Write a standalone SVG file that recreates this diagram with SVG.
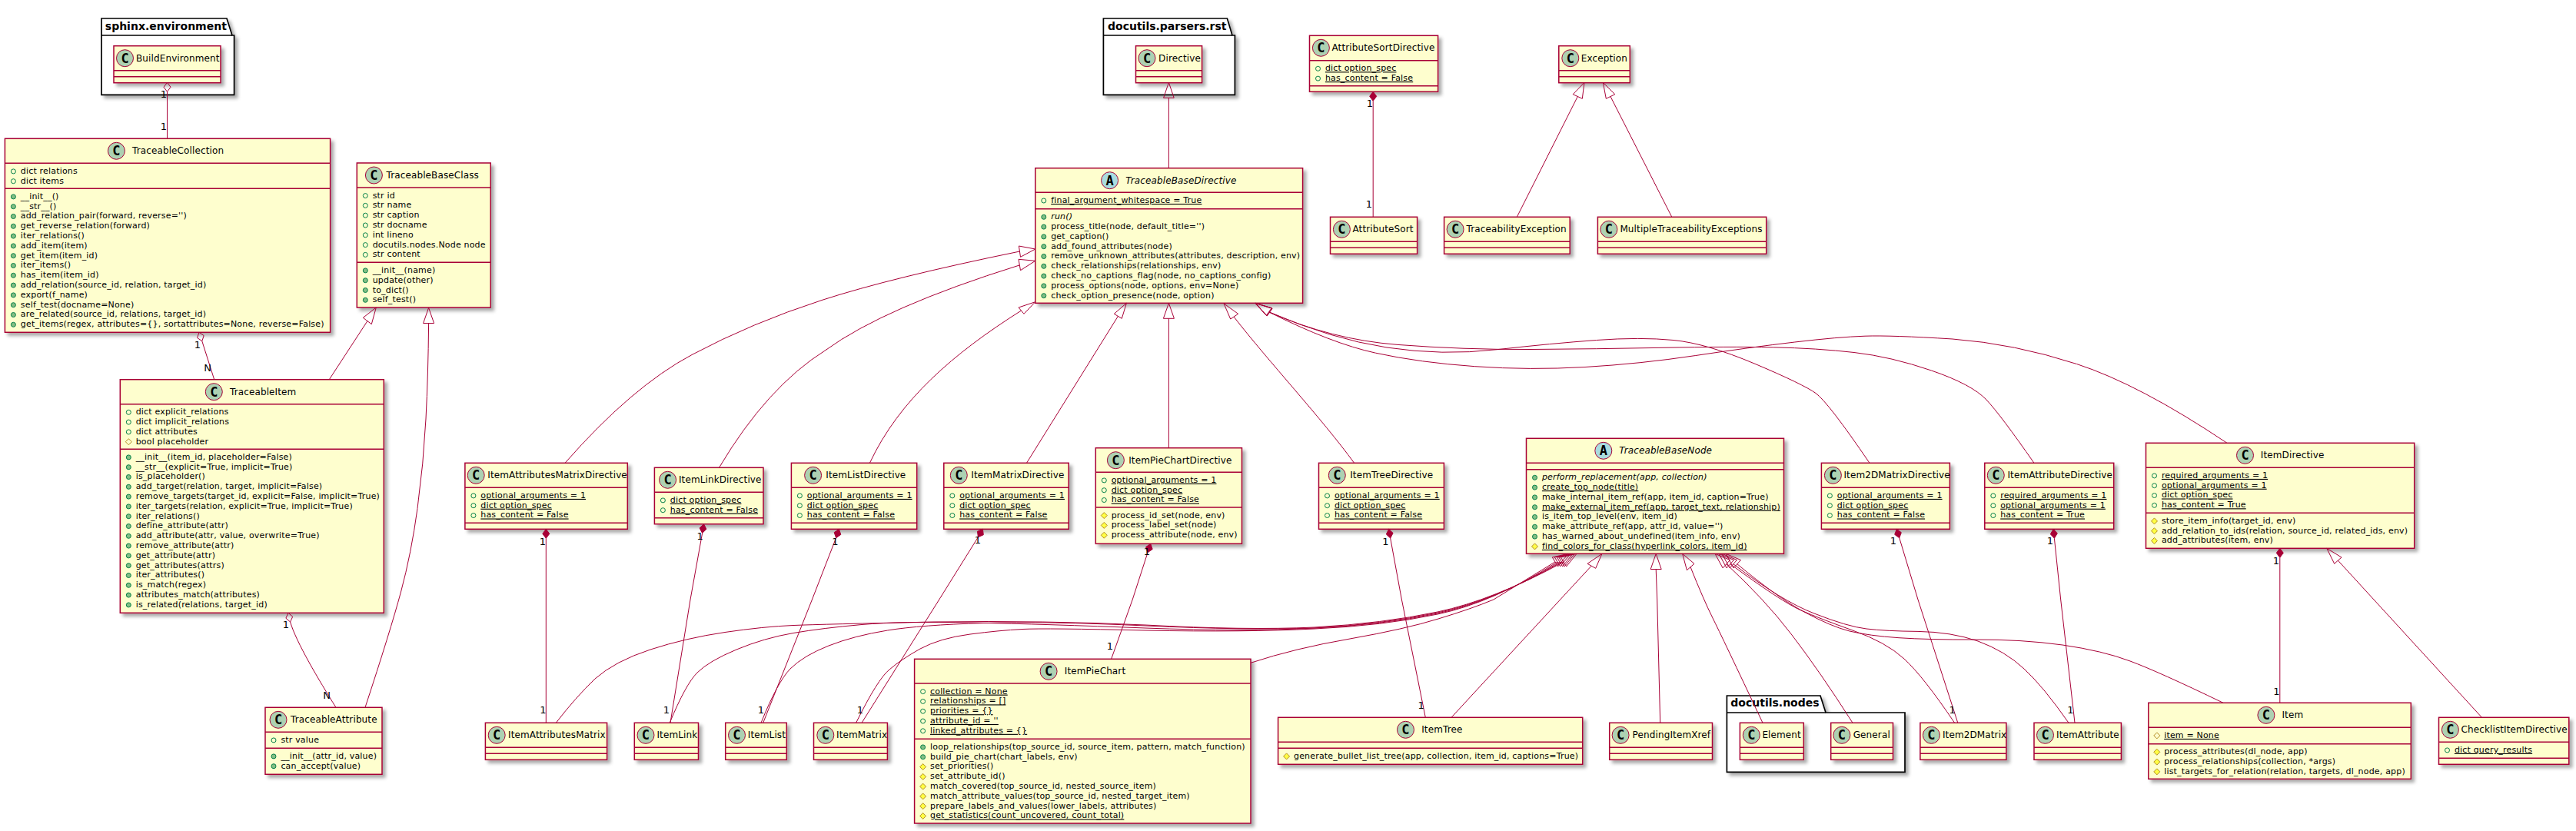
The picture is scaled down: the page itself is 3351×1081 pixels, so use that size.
<svg xmlns="http://www.w3.org/2000/svg" width="3351" height="1081" viewBox="0 0 3351 1081">
<style>
text{font-family:"DejaVu Sans",sans-serif;fill:#000}
.b{fill:#FEFECE;stroke:#A80036;stroke-width:1.5;filter:url(#s)}
.l{stroke:#A80036;stroke-width:1.5}
.sc{fill:#ADD1B2;stroke:#A80036;stroke-width:1}
.sa{fill:#A9DCDF;stroke:#A80036;stroke-width:1}
.g{font-family:"DejaVu Sans Mono",monospace;font-weight:bold;font-size:17px;text-anchor:middle}
.n{font-size:12px;letter-spacing:.12px}
.m{font-size:11px;letter-spacing:.18px}
.u{text-decoration:underline}
.i{font-style:italic}
.p{fill:#FFF;stroke:#000;stroke-width:1.7;filter:url(#s)}
.pl{fill:none;stroke:#000;stroke-width:1.7}
.pt{font-size:14px;font-weight:bold}
.e{fill:none;stroke:#A80036;stroke-width:1}
.d{fill:#A80036;stroke:#A80036;stroke-width:1}
.t{font-size:13px;text-anchor:middle}
</style>
<defs>
<filter id="s" x="-5%" y="-5%" width="120%" height="140%"><feDropShadow dx="4" dy="4" stdDeviation="2" flood-color="#000" flood-opacity="0.33"/></filter>
<circle id="f" r="3" fill="none" stroke="#038048"/>
<circle id="h" r="3" fill="#84BE84" stroke="#038048"/>
<path id="pf" d="M0,-4L4,0L0,4L-4,0Z" fill="none" stroke="#B38D22"/>
<path id="pm" d="M0,-4L4,0L0,4L-4,0Z" fill="#FFFF44" stroke="#B38D22"/>
</defs>
<g id="packages">
<path id="pkg-sphinx-environment" class="p" d="M132,24H295L302,46H304.6V123.3H132Z"/>
<path class="pl" d="M132,46H302"/>
<text class="pt" x="136.8" y="39">sphinx.environment</text>
<path id="pkg-docutils-parsers-rst" class="p" d="M1435.4,24H1596.4L1603,46H1606.4V123.3H1435.4Z"/>
<path class="pl" d="M1435.4,46H1603"/>
<text class="pt" x="1441" y="39">docutils.parsers.rst</text>
<path id="pkg-docutils-nodes" class="p" d="M2246.4,905H2368L2375,927H2478V1004.3H2246.4Z"/>
<path class="pl" d="M2246.4,927H2375"/>
<text class="pt" x="2251.3" y="919.3">docutils.nodes</text>
</g>
<g id="BuildEnvironment" transform="translate(148,59.7)"><rect class="b" width="139" height="48"/><path class="l" d="M0,32H139M0,40H139"/><circle class="sc" cx="14.5" cy="16" r="11"/><text class="g" x="14.5" y="22">C</text><text class="n" x="29" y="20">BuildEnvironment</text></g>
<g id="Directive" transform="translate(1477.5,59.7)"><rect class="b" width="86.1" height="48"/><path class="l" d="M0,32H86.1M0,40H86.1"/><circle class="sc" cx="14.5" cy="16" r="11"/><text class="g" x="14.5" y="22">C</text><text class="n" x="29.6" y="20">Directive</text></g>
<g id="TraceableCollection" transform="translate(6.4,180.3)"><rect class="b" width="423.2" height="252"/><path class="l" d="M0,32H423.2M0,65H423.2"/><circle class="sc" cx="145" cy="16" r="11"/><text class="g" x="145" y="22">C</text><text class="n" x="165.6" y="20">TraceableCollection</text>
<g class="m">
<use href="#f" x="11" y="42.6"/><text x="20.4" y="45.6">dict relations</text>
<use href="#f" x="11" y="55.4"/><text x="20.4" y="58.4">dict items</text>
<use href="#h" x="11" y="75.6"/><text x="20.4" y="78.6">__init__()</text>
<use href="#h" x="11" y="88.4"/><text x="20.4" y="91.4">__str__()</text>
<use href="#h" x="11" y="101.2"/><text x="20.4" y="104.2">add_relation_pair(forward, reverse='')</text>
<use href="#h" x="11" y="114"/><text x="20.4" y="117">get_reverse_relation(forward)</text>
<use href="#h" x="11" y="126.8"/><text x="20.4" y="129.8">iter_relations()</text>
<use href="#h" x="11" y="139.6"/><text x="20.4" y="142.6">add_item(item)</text>
<use href="#h" x="11" y="152.4"/><text x="20.4" y="155.4">get_item(item_id)</text>
<use href="#h" x="11" y="165.2"/><text x="20.4" y="168.2">iter_items()</text>
<use href="#h" x="11" y="178"/><text x="20.4" y="181">has_item(item_id)</text>
<use href="#h" x="11" y="190.8"/><text x="20.4" y="193.8">add_relation(source_id, relation, target_id)</text>
<use href="#h" x="11" y="203.6"/><text x="20.4" y="206.6">export(f_name)</text>
<use href="#h" x="11" y="216.4"/><text x="20.4" y="219.4">self_test(docname=None)</text>
<use href="#h" x="11" y="229.2"/><text x="20.4" y="232.2">are_related(source_id, relations, target_id)</text>
<use href="#h" x="11" y="242"/><text x="20.4" y="245">get_items(regex, attributes={}, sortattributes=None, reverse=False)</text>
</g></g>
<g id="TraceableBaseClass" transform="translate(464.3,212)"><rect class="b" width="173.9" height="188"/><path class="l" d="M0,32H173.9M0,129.3H173.9"/><circle class="sc" cx="22.1" cy="16" r="11"/><text class="g" x="22.1" y="22">C</text><text class="n" x="38.2" y="20">TraceableBaseClass</text>
<g class="m">
<use href="#f" x="11" y="42.6"/><text x="20.4" y="45.6">str id</text>
<use href="#f" x="11" y="55.4"/><text x="20.4" y="58.4">str name</text>
<use href="#f" x="11" y="68.2"/><text x="20.4" y="71.2">str caption</text>
<use href="#f" x="11" y="81"/><text x="20.4" y="84">str docname</text>
<use href="#f" x="11" y="93.8"/><text x="20.4" y="96.8">int lineno</text>
<use href="#f" x="11" y="106.6"/><text x="20.4" y="109.6">docutils.nodes.Node node</text>
<use href="#f" x="11" y="119.4"/><text x="20.4" y="122.4">str content</text>
<use href="#h" x="11" y="139.9"/><text x="20.4" y="142.9">__init__(name)</text>
<use href="#h" x="11" y="152.7"/><text x="20.4" y="155.7">update(other)</text>
<use href="#h" x="11" y="165.5"/><text x="20.4" y="168.5">to_dict()</text>
<use href="#h" x="11" y="178.3"/><text x="20.4" y="181.3">self_test()</text>
</g></g>
<g id="TraceableItem" transform="translate(156.3,493.7)"><rect class="b" width="343" height="303.6"/><path class="l" d="M0,32H343M0,90.6H343"/><circle class="sc" cx="122" cy="16" r="11"/><text class="g" x="122" y="22">C</text><text class="n" x="142.7" y="20">TraceableItem</text>
<g class="m">
<use href="#f" x="11" y="42.6"/><text x="20.4" y="45.6">dict explicit_relations</text>
<use href="#f" x="11" y="55.4"/><text x="20.4" y="58.4">dict implicit_relations</text>
<use href="#f" x="11" y="68.2"/><text x="20.4" y="71.2">dict attributes</text>
<use href="#pf" x="11" y="81"/><text x="20.4" y="84">bool placeholder</text>
<use href="#h" x="11" y="101.2"/><text x="20.4" y="104.2">__init__(item_id, placeholder=False)</text>
<use href="#h" x="11" y="114"/><text x="20.4" y="117">__str__(explicit=True, implicit=True)</text>
<use href="#h" x="11" y="126.8"/><text x="20.4" y="129.8">is_placeholder()</text>
<use href="#h" x="11" y="139.6"/><text x="20.4" y="142.6">add_target(relation, target, implicit=False)</text>
<use href="#h" x="11" y="152.4"/><text x="20.4" y="155.4">remove_targets(target_id, explicit=False, implicit=True)</text>
<use href="#h" x="11" y="165.2"/><text x="20.4" y="168.2">iter_targets(relation, explicit=True, implicit=True)</text>
<use href="#h" x="11" y="178"/><text x="20.4" y="181">iter_relations()</text>
<use href="#h" x="11" y="190.8"/><text x="20.4" y="193.8">define_attribute(attr)</text>
<use href="#h" x="11" y="203.6"/><text x="20.4" y="206.6">add_attribute(attr, value, overwrite=True)</text>
<use href="#h" x="11" y="216.4"/><text x="20.4" y="219.4">remove_attribute(attr)</text>
<use href="#h" x="11" y="229.2"/><text x="20.4" y="232.2">get_attribute(attr)</text>
<use href="#h" x="11" y="242"/><text x="20.4" y="245">get_attributes(attrs)</text>
<use href="#h" x="11" y="254.8"/><text x="20.4" y="257.8">iter_attributes()</text>
<use href="#h" x="11" y="267.6"/><text x="20.4" y="270.6">is_match(regex)</text>
<use href="#h" x="11" y="280.4"/><text x="20.4" y="283.4">attributes_match(attributes)</text>
<use href="#h" x="11" y="293.2"/><text x="20.4" y="296.2">is_related(relations, target_id)</text>
</g></g>
<g id="TraceableAttribute" transform="translate(345,920.3)"><rect class="b" width="152" height="87"/><path class="l" d="M0,32H152M0,53H152"/><circle class="sc" cx="17" cy="16" r="11"/><text class="g" x="17" y="22">C</text><text class="n" x="33" y="20">TraceableAttribute</text>
<g class="m">
<use href="#f" x="11" y="42.6"/><text x="20.4" y="45.6">str value</text>
<use href="#h" x="11" y="63.6"/><text x="20.4" y="66.6">__init__(attr_id, value)</text>
<use href="#h" x="11" y="76.4"/><text x="20.4" y="79.4">can_accept(value)</text>
</g></g>
<g id="TraceableBaseDirective" transform="translate(1346.8,218.7)"><rect class="b" width="347.8" height="175.6"/><path class="l" d="M0,31.5H347.8M0,53H347.8"/><circle class="sa" cx="96.8" cy="16" r="11"/><text class="g" x="96.8" y="22">A</text><text class="n i" x="117.5" y="20">TraceableBaseDirective</text>
<g class="m">
<use href="#f" x="11" y="42.3"/><text class="u" x="20.4" y="45.3">final_argument_whitespace = True</text>
<use href="#h" x="11" y="63.6"/><text class="i" x="20.4" y="66.6">run()</text>
<use href="#h" x="11" y="76.4"/><text x="20.4" y="79.4">process_title(node, default_title='')</text>
<use href="#h" x="11" y="89.2"/><text x="20.4" y="92.2">get_caption()</text>
<use href="#h" x="11" y="102"/><text x="20.4" y="105">add_found_attributes(node)</text>
<use href="#h" x="11" y="114.8"/><text x="20.4" y="117.8">remove_unknown_attributes(attributes, description, env)</text>
<use href="#h" x="11" y="127.6"/><text x="20.4" y="130.6">check_relationships(relationships, env)</text>
<use href="#h" x="11" y="140.4"/><text x="20.4" y="143.4">check_no_captions_flag(node, no_captions_config)</text>
<use href="#h" x="11" y="153.2"/><text x="20.4" y="156.2">process_options(node, options, env=None)</text>
<use href="#h" x="11" y="166"/><text x="20.4" y="169">check_option_presence(node, option)</text>
</g></g>
<g id="ItemAttributesMatrixDirective" transform="translate(604.9,602.3)"><rect class="b" width="211.4" height="86"/><path class="l" d="M0,32H211.4M0,78H211.4"/><circle class="sc" cx="14.3" cy="16" r="11"/><text class="g" x="14.3" y="22">C</text><text class="n" x="29.4" y="20">ItemAttributesMatrixDirective</text>
<g class="m">
<use href="#f" x="11" y="42.6"/><text class="u" x="20.4" y="45.6">optional_arguments = 1</text>
<use href="#f" x="11" y="55.4"/><text class="u" x="20.4" y="58.4">dict option_spec</text>
<use href="#f" x="11" y="68.2"/><text class="u" x="20.4" y="71.2">has_content = False</text>
</g></g>
<g id="ItemLinkDirective" transform="translate(851.4,608.3)"><rect class="b" width="141.6" height="73.4"/><path class="l" d="M0,32H141.6M0,65.4H141.6"/><circle class="sc" cx="17.2" cy="16" r="11"/><text class="g" x="17.2" y="22">C</text><text class="n" x="31.5" y="20">ItemLinkDirective</text>
<g class="m">
<use href="#f" x="11" y="42.6"/><text class="u" x="20.4" y="45.6">dict option_spec</text>
<use href="#f" x="11" y="55.4"/><text class="u" x="20.4" y="58.4">has_content = False</text>
</g></g>
<g id="ItemListDirective" transform="translate(1029.4,602.3)"><rect class="b" width="163.3" height="86"/><path class="l" d="M0,32H163.3M0,78H163.3"/><circle class="sc" cx="28.2" cy="16" r="11"/><text class="g" x="28.2" y="22">C</text><text class="n" x="44.9" y="20">ItemListDirective</text>
<g class="m">
<use href="#f" x="11" y="42.6"/><text class="u" x="20.4" y="45.6">optional_arguments = 1</text>
<use href="#f" x="11" y="55.4"/><text class="u" x="20.4" y="58.4">dict option_spec</text>
<use href="#f" x="11" y="68.2"/><text class="u" x="20.4" y="71.2">has_content = False</text>
</g></g>
<g id="ItemMatrixDirective" transform="translate(1227.8,602.3)"><rect class="b" width="162.4" height="86"/><path class="l" d="M0,32H162.4M0,78H162.4"/><circle class="sc" cx="19.5" cy="16" r="11"/><text class="g" x="19.5" y="22">C</text><text class="n" x="35.5" y="20">ItemMatrixDirective</text>
<g class="m">
<use href="#f" x="11" y="42.6"/><text class="u" x="20.4" y="45.6">optional_arguments = 1</text>
<use href="#f" x="11" y="55.4"/><text class="u" x="20.4" y="58.4">dict option_spec</text>
<use href="#f" x="11" y="68.2"/><text class="u" x="20.4" y="71.2">has_content = False</text>
</g></g>
<g id="ItemPieChartDirective" transform="translate(1425.3,582.7)"><rect class="b" width="190.2" height="124.6"/><path class="l" d="M0,31.6H190.2M0,77.3H190.2"/><circle class="sc" cx="26.1" cy="16" r="11"/><text class="g" x="26.1" y="22">C</text><text class="n" x="42.9" y="20">ItemPieChartDirective</text>
<g class="m">
<use href="#f" x="11" y="42.2"/><text class="u" x="20.4" y="45.2">optional_arguments = 1</text>
<use href="#f" x="11" y="55"/><text class="u" x="20.4" y="58">dict option_spec</text>
<use href="#f" x="11" y="67.8"/><text class="u" x="20.4" y="70.8">has_content = False</text>
<use href="#pm" x="11" y="87.9"/><text x="20.4" y="90.9">process_id_set(node, env)</text>
<use href="#pm" x="11" y="100.7"/><text x="20.4" y="103.7">process_label_set(node)</text>
<use href="#pm" x="11" y="113.5"/><text x="20.4" y="116.5">process_attribute(node, env)</text>
</g></g>
<g id="ItemTreeDirective" transform="translate(1715.5,602.3)"><rect class="b" width="162.9" height="86"/><path class="l" d="M0,32H162.9M0,78H162.9"/><circle class="sc" cx="23.8" cy="16" r="11"/><text class="g" x="23.8" y="22">C</text><text class="n" x="40.7" y="20">ItemTreeDirective</text>
<g class="m">
<use href="#f" x="11" y="42.6"/><text class="u" x="20.4" y="45.6">optional_arguments = 1</text>
<use href="#f" x="11" y="55.4"/><text class="u" x="20.4" y="58.4">dict option_spec</text>
<use href="#f" x="11" y="68.2"/><text class="u" x="20.4" y="71.2">has_content = False</text>
</g></g>
<g id="TraceableBaseNode" transform="translate(1985.5,570.3)"><rect class="b" width="335" height="150"/><path class="l" d="M0,32H335M0,40.4H335"/><circle class="sa" cx="100.3" cy="16" r="11"/><text class="g" x="100.3" y="22">A</text><text class="n i" x="120.7" y="20">TraceableBaseNode</text>
<g class="m">
<use href="#h" x="11" y="51"/><text class="i" x="20.4" y="54">perform_replacement(app, collection)</text>
<use href="#h" x="11" y="63.8"/><text class="u" x="20.4" y="66.8">create_top_node(title)</text>
<use href="#h" x="11" y="76.6"/><text x="20.4" y="79.6">make_internal_item_ref(app, item_id, caption=True)</text>
<use href="#h" x="11" y="89.4"/><text class="u" x="20.4" y="92.4">make_external_item_ref(app, target_text, relationship)</text>
<use href="#h" x="11" y="102.2"/><text x="20.4" y="105.2">is_item_top_level(env, item_id)</text>
<use href="#h" x="11" y="115"/><text x="20.4" y="118">make_attribute_ref(app, attr_id, value='')</text>
<use href="#h" x="11" y="127.8"/><text x="20.4" y="130.8">has_warned_about_undefined(item_info, env)</text>
<use href="#pm" x="11" y="140.6"/><text class="u" x="20.4" y="143.6">find_colors_for_class(hyperlink_colors, item_id)</text>
</g></g>
<g id="Item2DMatrixDirective" transform="translate(2369.4,602.3)"><rect class="b" width="167" height="86"/><path class="l" d="M0,32H167M0,78H167"/><circle class="sc" cx="15" cy="16" r="11"/><text class="g" x="15" y="22">C</text><text class="n" x="29" y="20">Item2DMatrixDirective</text>
<g class="m">
<use href="#f" x="11" y="42.6"/><text class="u" x="20.4" y="45.6">optional_arguments = 1</text>
<use href="#f" x="11" y="55.4"/><text class="u" x="20.4" y="58.4">dict option_spec</text>
<use href="#f" x="11" y="68.2"/><text class="u" x="20.4" y="71.2">has_content = False</text>
</g></g>
<g id="ItemAttributeDirective" transform="translate(2581.8,602.3)"><rect class="b" width="167.9" height="86"/><path class="l" d="M0,32H167.9M0,78H167.9"/><circle class="sc" cx="14.5" cy="16" r="11"/><text class="g" x="14.5" y="22">C</text><text class="n" x="29.6" y="20">ItemAttributeDirective</text>
<g class="m">
<use href="#f" x="11" y="42.6"/><text class="u" x="20.4" y="45.6">required_arguments = 1</text>
<use href="#f" x="11" y="55.4"/><text class="u" x="20.4" y="58.4">optional_arguments = 1</text>
<use href="#f" x="11" y="68.2"/><text class="u" x="20.4" y="71.2">has_content = True</text>
</g></g>
<g id="ItemDirective" transform="translate(2791.5,576.3)"><rect class="b" width="349.2" height="137"/><path class="l" d="M0,32H349.2M0,91H349.2"/><circle class="sc" cx="129" cy="16" r="11"/><text class="g" x="129" y="22">C</text><text class="n" x="149.3" y="20">ItemDirective</text>
<g class="m">
<use href="#f" x="11" y="42.6"/><text class="u" x="20.4" y="45.6">required_arguments = 1</text>
<use href="#f" x="11" y="55.4"/><text class="u" x="20.4" y="58.4">optional_arguments = 1</text>
<use href="#f" x="11" y="68.2"/><text class="u" x="20.4" y="71.2">dict option_spec</text>
<use href="#f" x="11" y="81"/><text class="u" x="20.4" y="84">has_content = True</text>
<use href="#pm" x="11" y="101.6"/><text x="20.4" y="104.6">store_item_info(target_id, env)</text>
<use href="#pm" x="11" y="114.4"/><text x="20.4" y="117.4">add_relation_to_ids(relation, source_id, related_ids, env)</text>
<use href="#pm" x="11" y="127.2"/><text x="20.4" y="130.2">add_attributes(item, env)</text>
</g></g>
<g id="ItemAttributesMatrix" transform="translate(631.4,940.3)"><rect class="b" width="158.2" height="48"/><path class="l" d="M0,32H158.2M0,40H158.2"/><circle class="sc" cx="14.8" cy="16" r="11"/><text class="g" x="14.8" y="22">C</text><text class="n" x="29.6" y="20">ItemAttributesMatrix</text></g>
<g id="ItemLink" transform="translate(825.3,940.3)"><rect class="b" width="83.2" height="48"/><path class="l" d="M0,32H83.2M0,40H83.2"/><circle class="sc" cx="14.7" cy="16" r="11"/><text class="g" x="14.7" y="22">C</text><text class="n" x="29.1" y="20">ItemLink</text></g>
<g id="ItemList" transform="translate(943.7,940.3)"><rect class="b" width="79.6" height="48"/><path class="l" d="M0,32H79.6M0,40H79.6"/><circle class="sc" cx="14.8" cy="16" r="11"/><text class="g" x="14.8" y="22">C</text><text class="n" x="29.1" y="20">ItemList</text></g>
<g id="ItemMatrix" transform="translate(1058.5,940.3)"><rect class="b" width="95.9" height="48"/><path class="l" d="M0,32H95.9M0,40H95.9"/><circle class="sc" cx="15.3" cy="16" r="11"/><text class="g" x="15.3" y="22">C</text><text class="n" x="29.5" y="20">ItemMatrix</text></g>
<g id="ItemPieChart" transform="translate(1189.6,857.3)"><rect class="b" width="437.4" height="213.7"/><path class="l" d="M0,31.7H437.4M0,104H437.4"/><circle class="sc" cx="174.5" cy="16" r="11"/><text class="g" x="174.5" y="22">C</text><text class="n" x="195.2" y="20">ItemPieChart</text>
<g class="m">
<use href="#f" x="11" y="42.3"/><text class="u" x="20.4" y="45.3">collection = None</text>
<use href="#f" x="11" y="55.1"/><text class="u" x="20.4" y="58.1">relationships = []</text>
<use href="#f" x="11" y="67.9"/><text class="u" x="20.4" y="70.9">priorities = {}</text>
<use href="#f" x="11" y="80.7"/><text class="u" x="20.4" y="83.7">attribute_id = ''</text>
<use href="#f" x="11" y="93.5"/><text class="u" x="20.4" y="96.5">linked_attributes = {}</text>
<use href="#h" x="11" y="114.6"/><text x="20.4" y="117.6">loop_relationships(top_source_id, source_item, pattern, match_function)</text>
<use href="#h" x="11" y="127.4"/><text x="20.4" y="130.4">build_pie_chart(chart_labels, env)</text>
<use href="#pm" x="11" y="140.2"/><text x="20.4" y="143.2">set_priorities()</text>
<use href="#pm" x="11" y="153"/><text x="20.4" y="156">set_attribute_id()</text>
<use href="#pm" x="11" y="165.8"/><text x="20.4" y="168.8">match_covered(top_source_id, nested_source_item)</text>
<use href="#pm" x="11" y="178.6"/><text x="20.4" y="181.6">match_attribute_values(top_source_id, nested_target_item)</text>
<use href="#pm" x="11" y="191.4"/><text x="20.4" y="194.4">prepare_labels_and_values(lower_labels, attributes)</text>
<use href="#pm" x="11" y="204.2"/><text class="u" x="20.4" y="207.2">get_statistics(count_uncovered, count_total)</text>
</g></g>
<g id="ItemTree" transform="translate(1662.6,933.3)"><rect class="b" width="396.1" height="61"/><path class="l" d="M0,32H396.1M0,40H396.1"/><circle class="sc" cx="165.9" cy="16" r="11"/><text class="g" x="165.9" y="22">C</text><text class="n" x="186.6" y="20">ItemTree</text>
<g class="m"><use href="#pm" x="11" y="50.6"/><text x="20.4" y="53.6">generate_bullet_list_tree(app, collection, item_id, captions=True)</text></g></g>
<g id="PendingItemXref" transform="translate(2093.7,940.3)"><rect class="b" width="133.8" height="48"/><path class="l" d="M0,32H133.8M0,40H133.8"/><circle class="sc" cx="14.4" cy="16" r="11"/><text class="g" x="14.4" y="22">C</text><text class="n" x="29.9" y="20">PendingItemXref</text></g>
<g id="Element" transform="translate(2263.4,940.3)"><rect class="b" width="82.9" height="48"/><path class="l" d="M0,32H82.9M0,40H82.9"/><circle class="sc" cx="14.9" cy="16" r="11"/><text class="g" x="14.9" y="22">C</text><text class="n" x="29" y="20">Element</text></g>
<g id="General" transform="translate(2381.7,940.3)"><rect class="b" width="80.8" height="48"/><path class="l" d="M0,32H80.8M0,40H80.8"/><circle class="sc" cx="14.2" cy="16" r="11"/><text class="g" x="14.2" y="22">C</text><text class="n" x="29" y="20">General</text></g>
<g id="Item2DMatrix" transform="translate(2497.9,940.3)"><rect class="b" width="112" height="48"/><path class="l" d="M0,32H112M0,40H112"/><circle class="sc" cx="14.5" cy="16" r="11"/><text class="g" x="14.5" y="22">C</text><text class="n" x="29" y="20">Item2DMatrix</text></g>
<g id="ItemAttribute" transform="translate(2646,940.3)"><rect class="b" width="113.4" height="48"/><path class="l" d="M0,32H113.4M0,40H113.4"/><circle class="sc" cx="14.5" cy="16" r="11"/><text class="g" x="14.5" y="22">C</text><text class="n" x="29" y="20">ItemAttribute</text></g>
<g id="Item" transform="translate(2794.8,914.3)"><rect class="b" width="341.5" height="99"/><path class="l" d="M0,32H341.5M0,53.4H341.5"/><circle class="sc" cx="153.1" cy="16" r="11"/><text class="g" x="153.1" y="22">C</text><text class="n" x="173.6" y="20">Item</text>
<g class="m">
<use href="#pf" x="11" y="42.6"/><text class="u" x="20.4" y="45.6">item = None</text>
<use href="#pm" x="11" y="64"/><text x="20.4" y="67">process_attributes(dl_node, app)</text>
<use href="#pm" x="11" y="76.8"/><text x="20.4" y="79.8">process_relationships(collection, *args)</text>
<use href="#pm" x="11" y="89.6"/><text x="20.4" y="92.6">list_targets_for_relation(relation, targets, dl_node, app)</text>
</g></g>
<g id="ChecklistItemDirective" transform="translate(3172.5,933.3)"><rect class="b" width="169.3" height="61"/><path class="l" d="M0,32H169.3M0,53H169.3"/><circle class="sc" cx="14.9" cy="16" r="11"/><text class="g" x="14.9" y="22">C</text><text class="n" x="29" y="20">ChecklistItemDirective</text>
<g class="m"><use href="#f" x="11" y="42.6"/><text class="u" x="20.4" y="45.6">dict query_results</text></g></g>
<g id="AttributeSortDirective" transform="translate(1703.5,46.3)"><rect class="b" width="167.1" height="73"/><path class="l" d="M0,32.4H167.1M0,65.4H167.1"/><circle class="sc" cx="14.9" cy="16" r="11"/><text class="g" x="14.9" y="22">C</text><text class="n" x="29" y="20">AttributeSortDirective</text>
<g class="m">
<use href="#f" x="11" y="43"/><text class="u" x="20.4" y="46">dict option_spec</text>
<use href="#f" x="11" y="55.8"/><text class="u" x="20.4" y="58.8">has_content = False</text>
</g></g>
<g id="Exception" transform="translate(2027.8,59.7)"><rect class="b" width="92.5" height="48"/><path class="l" d="M0,32H92.5M0,40H92.5"/><circle class="sc" cx="15" cy="16" r="11"/><text class="g" x="15" y="22">C</text><text class="n" x="29" y="20">Exception</text></g>
<g id="AttributeSort" transform="translate(1730.5,282.3)"><rect class="b" width="113.1" height="48"/><path class="l" d="M0,32H113.1M0,40H113.1"/><circle class="sc" cx="14.9" cy="16" r="11"/><text class="g" x="14.9" y="22">C</text><text class="n" x="29" y="20">AttributeSort</text></g>
<g id="TraceabilityException" transform="translate(1878.6,282.3)"><rect class="b" width="163.6" height="48"/><path class="l" d="M0,32H163.6M0,40H163.6"/><circle class="sc" cx="14.5" cy="16" r="11"/><text class="g" x="14.5" y="22">C</text><text class="n" x="29" y="20">TraceabilityException</text></g>
<g id="MultipleTraceabilityExceptions" transform="translate(2078.4,282.3)"><rect class="b" width="219.3" height="48"/><path class="l" d="M0,32H219.3M0,40H219.3"/><circle class="sc" cx="14.5" cy="16" r="11"/><text class="g" x="14.5" y="22">C</text><text class="n" x="29" y="20">MultipleTraceabilityExceptions</text></g>
<g id="connectors">
<path class="e" d="M217.5,119.3V180.3"/><path class="e" d="M217.5,107.3L222,113.3L217.5,119.3L213,113.3Z"/>
<path class="e" d="M262.8,443.7L278.7,493.7"/><path class="e" d="M259,432.3L265.2,436.6L262.8,443.7L256.6,439.4Z"/>
<path class="e" d="M377.6,809C385,835 415,885 437,920.3"/><path class="e" d="M375,797.3L380.7,802.2L377.6,809L371.9,804.2Z"/>
<path class="e" d="M478,417.5L428.3,493.7"/><path class="e" d="M489.3,400L472.3,413.3L483.3,421.7Z"/>
<path class="e" d="M557.6,421Q557,487 554,545Q551,603 543,661.5Q535,720 521.5,770Q508,820 475,920.3"/><path class="e" d="M557.6,400.3L550.6,420.5L564.6,420.5Z"/>
<path class="e" d="M1520.4,127.3V218.7"/><path class="e" d="M1520.4,107.3L1513.6,127.3L1527.2,127.3Z"/>
<path class="e" d="M1326.5,327Q1160,361 1069,390.5Q978,420 900,461.5Q822,503 735,602.3"/><path class="e" d="M1346.8,324L1325.4,320L1327.5,334.3Z"/>
<path class="e" d="M1326,345Q1150,400 1074,455.5Q998,503 935.5,608.3"/><path class="e" d="M1346.8,339.3L1325,337.3L1327.5,351.7Z"/>
<path class="e" d="M1328.5,404C1240,460 1170,520 1131.4,602.3"/><path class="e" d="M1346.8,392.7L1325,400L1332,408.3Z"/>
<path class="e" d="M1454.6,411L1335.5,602.3"/><path class="e" d="M1465.4,394.3L1449.3,408.3L1459.3,414.3Z"/>
<path class="e" d="M1520.4,414.3V582.7"/><path class="e" d="M1520.4,394.3L1513.4,414.3L1527.4,414.3Z"/>
<path class="e" d="M1605,412C1650,470 1720,545 1761.6,602.3"/><path class="e" d="M1592,394.8L1610.7,408.3L1600.7,415Z"/>
<path class="e" d="M1651,406Q1732,441 1804,452Q1876,463 1947.5,454.7Q2019,446.7 2076.5,442.5Q2134,438.3 2177,442.5Q2220,446.7 2283,473.3Q2346,500 2362,511.5Q2378,523 2432,602.3"/>
<path class="e" d="M1651,406Q1732,441.7 1818,448.4Q1904,455 1990,454.5Q2076.6,454 2163,452.3Q2249,450.7 2306.5,451.8Q2364,453 2412,458.5Q2460,464 2512.5,482Q2565,500 2584,520Q2602.7,540 2646,602.3"/>
<path class="e" d="M1651,406Q1732,446.7 1789.5,459.2Q1847,471.7 1918.7,476.7Q1990.5,481.7 2062,477.5Q2134,473.3 2205.8,462.5Q2277.6,451.7 2334.8,445Q2392,438.3 2426,437.2Q2460,436 2540,441Q2620,447 2701.5,473.5Q2783,500 2897,576.3"/>
<path class="e" d="M1633,394.3L1654.7,401L1647.8,410.7Z"/><path class="e" d="M1633.4,394.3L1655.1,401.4L1648.2,411.1Z"/><path class="e" d="M1632.6,394.3L1654.3,400.6L1647.4,410.3Z"/>
<path class="e" d="M710.3,700.3V940.3"/><path class="d" d="M710.3,688.3L714.8,694.3L710.3,700.3L705.8,694.3Z"/>
<path class="e" d="M913.6,693.5L898,780L872,940.3"/><path class="d" d="M915.5,681.7L918.9,688.3L913.6,693.5L910.1,686.9Z"/>
<path class="e" d="M1087.6,699.7L1056.4,780L992.7,940.3"/><path class="d" d="M1091.4,688.3L1093.8,695.4L1087.6,699.7L1085.2,692.6Z"/>
<path class="e" d="M1272.4,698.7L1221.7,780L1121,940.3"/><path class="d" d="M1278.4,688.3L1279.3,695.7L1272.4,698.7L1271.5,691.2Z"/>
<path class="e" d="M1493,718.7L1473.2,780L1445.6,857.3"/><path class="d" d="M1496.7,707.3L1499.2,714.4L1493,718.7L1490.6,711.6Z"/>
<path class="e" d="M1808.7,700.1L1823.4,780L1854.3,933.3"/><path class="d" d="M1806.6,688.3L1812.1,693.4L1808.7,700.1L1803.3,695Z"/>
<path class="e" d="M2470.8,699.8L2495,780L2546.8,940.3"/><path class="d" d="M2467.3,688.3L2473.3,692.7L2470.8,699.8L2464.7,695.3Z"/>
<path class="e" d="M2672.4,700.2L2680.7,780L2699,940.3"/><path class="d" d="M2671.2,688.3L2676.3,693.8L2672.4,700.2L2667.3,694.8Z"/>
<path class="e" d="M2965.8,725.3V914.3"/><path class="d" d="M2965.8,713.3L2970.3,719.3L2965.8,725.3L2961.3,719.3Z"/>
<path class="e" d="M1786.2,131.3V282.3"/><path class="d" d="M1786.2,119.3L1790.7,125.3L1786.2,131.3L1781.7,125.3Z"/>
<path class="e" d="M3041.3,729L3228.5,933.3"/><path class="e" d="M3026.8,713.3L3046,725L3036.7,733.3Z"/>
<path class="e" d="M2052.3,125.5L1973.3,282.3"/><path class="e" d="M2061,107.3L2046.2,122.7L2058.3,128.3Z"/>
<path class="e" d="M2095,125.5L2174.8,282.3"/><path class="e" d="M2085.3,107.3L2100.8,122.7L2089.3,128.3Z"/>
<path class="e" d="M2034,731Q1942,781 1870,796Q1799,811 1710,816Q1620,820 1490,813Q1360,807 1215,809Q1070,812 1032,813.5Q994,815 943,822.5Q892,830 846,845Q800,860 774,883Q749,907 723.3,940.3"/><path class="e" d="M2051,720.3L2030.3,724.9L2037.7,736.9Z"/>
<path class="e" d="M2031.5,731Q1942,782 1870,797Q1799,812 1710,817Q1620,822 1490,817Q1360,812 1266,810Q1172,808 1121,812.5Q1070,817 1032,823.5Q994,830 958,845Q922,860 907,875Q892,890 871.2,940.3"/><path class="e" d="M2048.5,720.3L2027.8,724.9L2035.2,736.9Z"/>
<path class="e" d="M2029,731Q1942,783 1870,798Q1799,813 1710,817Q1620,820 1490,814Q1360,808 1279,810.5Q1198,813 1154.5,820Q1111,827 1078,840Q1045,853 1028,870Q1011.5,887 990,940.3"/><path class="e" d="M2046,720.3L2025.3,724.9L2032.7,736.9Z"/>
<path class="e" d="M2026,731Q1942,784 1870,799Q1799,814 1710,818Q1620,822.5 1490,820Q1360,817 1330,818.5Q1300,820 1262,825Q1223,830 1197,844Q1172,858 1157,871Q1142,883 1113.6,940.3"/><path class="e" d="M2043,720.3L2022.3,724.9L2029.7,736.9Z"/>
<path class="e" d="M2023,730.9L1942.8,780Q1914,792 1871,805Q1828,818.3 1756,831Q1684.4,843.3 1627,862.3"/><path class="e" d="M2040,720.3L2019.3,724.9L2026.7,736.9Z"/>
<path class="e" d="M2070,736.3L1888,933.3"/><path class="e" d="M2084,720.3L2065,733.3L2075.7,739.3Z"/>
<path class="e" d="M2154.2,740.5L2155.7,780L2159.7,940.3"/><path class="e" d="M2154.2,720.3L2147.2,740.5L2161.2,740.5Z"/>
<path class="e" d="M2199,737.5Q2216,780 2228,804Q2240,828 2293,940.3"/><path class="e" d="M2188.6,720.3L2204,733.3L2194.4,741.7Z"/>
<path class="e" d="M2245.8,733.7Q2296,780 2331,826Q2367,873 2410,940.3"/><path class="e" d="M2231,720.3L2250.5,728.5L2241.1,738.9Z"/>
<path class="e" d="M2250.8,733.7Q2318,783 2343,794Q2368,805 2410,820Q2453,835 2477,857Q2502,880 2542.6,940.3"/><path class="e" d="M2236,720.3L2255.5,728.5L2246.1,738.9Z"/>
<path class="e" d="M2254.8,733.7Q2318,782 2360,798Q2403,815 2428,818Q2453,821 2495,821.4Q2538,822 2573,834Q2608.5,847 2633,870Q2658,893 2691,940.3"/><path class="e" d="M2240,720.3L2259.5,728.5L2250.1,738.9Z"/>
<path class="e" d="M2259.8,733.7Q2313,778 2347,796Q2382,815 2406,821Q2431,827 2470,829.7Q2509,832.3 2569,832Q2630,831.7 2683,839Q2736,846.7 2771,860Q2807,873.3 2892,914.3"/><path class="e" d="M2245,720.3L2264.5,728.5L2255.1,738.9Z"/>
<g id="edge-labels">
<text class="t" x="213" y="126.7">1</text><text class="t" x="213" y="169">1</text>
<text class="t" x="257" y="453">1</text><text class="t" x="270" y="482.7">N</text>
<text class="t" x="372" y="817">1</text><text class="t" x="425" y="909">N</text>
<text class="t" x="706" y="708.7">1</text><text class="t" x="706.4" y="928.3">1</text>
<text class="t" x="910.6" y="701.7">1</text><text class="t" x="867" y="928.3">1</text>
<text class="t" x="1086.5" y="708.7">1</text><text class="t" x="990" y="928.3">1</text>
<text class="t" x="1272" y="707.3">1</text><text class="t" x="1119" y="928.3">1</text>
<text class="t" x="1492" y="721.7">1</text><text class="t" x="1444" y="845">1</text>
<text class="t" x="1802.3" y="709">1</text><text class="t" x="1848.6" y="921.7">1</text>
<text class="t" x="2463" y="708.3">1</text><text class="t" x="2539.7" y="928.3">1</text>
<text class="t" x="2667" y="708.3">1</text><text class="t" x="2693.5" y="928.3">1</text>
<text class="t" x="2961" y="734">1</text><text class="t" x="2961.3" y="904">1</text>
<text class="t" x="1782" y="139.3">1</text><text class="t" x="1781" y="270">1</text>
</g>
</g>
</svg>
